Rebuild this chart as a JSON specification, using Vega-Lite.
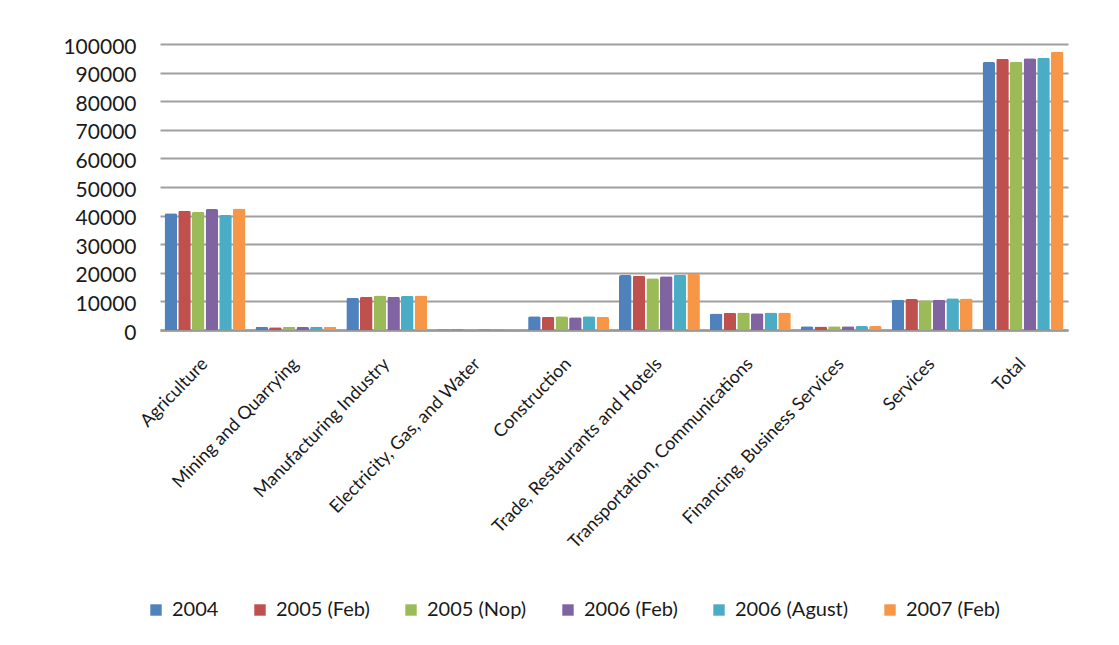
{
  "$schema": "https://vega.github.io/schema/vega-lite/v6.json",
  "width": 908,
  "height": 286,
  "autosize": {"type": "none"},
  "padding": {"left": 160, "top": 44, "right": 51, "bottom": 315},
  "background": "white",
  "data": {
    "values": [
      {"sector": "Agriculture", "period": "2004", "value": 40800},
      {"sector": "Agriculture", "period": "2005 (Feb)", "value": 41700},
      {"sector": "Agriculture", "period": "2005 (Nop)", "value": 41300},
      {"sector": "Agriculture", "period": "2006 (Feb)", "value": 42300},
      {"sector": "Agriculture", "period": "2006 (Agust)", "value": 40200},
      {"sector": "Agriculture", "period": "2007 (Feb)", "value": 42500},
      {"sector": "Mining and Quarrying", "period": "2004", "value": 1100},
      {"sector": "Mining and Quarrying", "period": "2005 (Feb)", "value": 1000},
      {"sector": "Mining and Quarrying", "period": "2005 (Nop)", "value": 1100},
      {"sector": "Mining and Quarrying", "period": "2006 (Feb)", "value": 1050},
      {"sector": "Mining and Quarrying", "period": "2006 (Agust)", "value": 1100},
      {"sector": "Mining and Quarrying", "period": "2007 (Feb)", "value": 1100},
      {"sector": "Manufacturing Industry", "period": "2004", "value": 11300},
      {"sector": "Manufacturing Industry", "period": "2005 (Feb)", "value": 11650},
      {"sector": "Manufacturing Industry", "period": "2005 (Nop)", "value": 12100},
      {"sector": "Manufacturing Industry", "period": "2006 (Feb)", "value": 11650},
      {"sector": "Manufacturing Industry", "period": "2006 (Agust)", "value": 12000},
      {"sector": "Manufacturing Industry", "period": "2007 (Feb)", "value": 12100},
      {"sector": "Electricity, Gas, and Water", "period": "2004", "value": 300},
      {"sector": "Electricity, Gas, and Water", "period": "2005 (Feb)", "value": 250},
      {"sector": "Electricity, Gas, and Water", "period": "2005 (Nop)", "value": 250},
      {"sector": "Electricity, Gas, and Water", "period": "2006 (Feb)", "value": 280},
      {"sector": "Electricity, Gas, and Water", "period": "2006 (Agust)", "value": 260},
      {"sector": "Electricity, Gas, and Water", "period": "2007 (Feb)", "value": 250},
      {"sector": "Construction", "period": "2004", "value": 4800},
      {"sector": "Construction", "period": "2005 (Feb)", "value": 4600},
      {"sector": "Construction", "period": "2005 (Nop)", "value": 4800},
      {"sector": "Construction", "period": "2006 (Feb)", "value": 4500},
      {"sector": "Construction", "period": "2006 (Agust)", "value": 4800},
      {"sector": "Construction", "period": "2007 (Feb)", "value": 4600},
      {"sector": "Trade, Restaurants and Hotels", "period": "2004", "value": 19200},
      {"sector": "Trade, Restaurants and Hotels", "period": "2005 (Feb)", "value": 19000},
      {"sector": "Trade, Restaurants and Hotels", "period": "2005 (Nop)", "value": 18100},
      {"sector": "Trade, Restaurants and Hotels", "period": "2006 (Feb)", "value": 18800},
      {"sector": "Trade, Restaurants and Hotels", "period": "2006 (Agust)", "value": 19300},
      {"sector": "Trade, Restaurants and Hotels", "period": "2007 (Feb)", "value": 19600},
      {"sector": "Transportation, Communications", "period": "2004", "value": 5800},
      {"sector": "Transportation, Communications", "period": "2005 (Feb)", "value": 6000},
      {"sector": "Transportation, Communications", "period": "2005 (Nop)", "value": 6100},
      {"sector": "Transportation, Communications", "period": "2006 (Feb)", "value": 5900},
      {"sector": "Transportation, Communications", "period": "2006 (Agust)", "value": 6100},
      {"sector": "Transportation, Communications", "period": "2007 (Feb)", "value": 6100},
      {"sector": "Financing, Business Services", "period": "2004", "value": 1300},
      {"sector": "Financing, Business Services", "period": "2005 (Feb)", "value": 1200},
      {"sector": "Financing, Business Services", "period": "2005 (Nop)", "value": 1300},
      {"sector": "Financing, Business Services", "period": "2006 (Feb)", "value": 1300},
      {"sector": "Financing, Business Services", "period": "2006 (Agust)", "value": 1400},
      {"sector": "Financing, Business Services", "period": "2007 (Feb)", "value": 1400},
      {"sector": "Services", "period": "2004", "value": 10600},
      {"sector": "Services", "period": "2005 (Feb)", "value": 10800},
      {"sector": "Services", "period": "2005 (Nop)", "value": 10400},
      {"sector": "Services", "period": "2006 (Feb)", "value": 10600},
      {"sector": "Services", "period": "2006 (Agust)", "value": 11100},
      {"sector": "Services", "period": "2007 (Feb)", "value": 11000},
      {"sector": "Total", "period": "2004", "value": 93700},
      {"sector": "Total", "period": "2005 (Feb)", "value": 94800},
      {"sector": "Total", "period": "2005 (Nop)", "value": 93800},
      {"sector": "Total", "period": "2006 (Feb)", "value": 95000},
      {"sector": "Total", "period": "2006 (Agust)", "value": 95200},
      {"sector": "Total", "period": "2007 (Feb)", "value": 97300}
    ]
  },
  "mark": {"type": "bar", "cornerRadiusTopLeft": 2, "cornerRadiusTopRight": 2},
  "encoding": {
    "x": {
      "field": "sector",
      "type": "nominal",
      "sort": null,
      "scale": {"paddingInner": 0.11, "paddingOuter": 0.05},
      "axis": {
        "title": null,
        "labelAngle": -46,
        "labelAlign": "right",
        "labelBaseline": "middle",
        "labelFont": "Lato",
        "labelFontSize": 18,
        "labelColor": "#1a1a1a",
        "labelPadding": 31,
        "labelLimit": 400,
        "ticks": false,
        "domainColor": "#999999",
        "domainWidth": 2.5
      }
    },
    "xOffset": {
      "field": "period",
      "type": "nominal",
      "sort": ["2004", "2005 (Feb)", "2005 (Nop)", "2006 (Feb)", "2006 (Agust)", "2007 (Feb)"],
      "scale": {"paddingInner": 0.08}
    },
    "y": {
      "field": "value",
      "type": "quantitative",
      "scale": {"domain": [0, 100000], "nice": false},
      "axis": {
        "title": null,
        "values": [0, 10000, 20000, 30000, 40000, 50000, 60000, 70000, 80000, 90000, 100000],
        "format": "d",
        "labelFont": "Lato",
        "labelFontSize": 21,
        "labelColor": "#1a1a1a",
        "labelPadding": 24,
        "labelOffset": 3,
        "ticks": false,
        "domain": false,
        "gridColor": "#a0a0a0",
        "gridWidth": 1.8
      }
    },
    "color": {
      "field": "period",
      "type": "nominal",
      "scale": {
        "domain": ["2004", "2005 (Feb)", "2005 (Nop)", "2006 (Feb)", "2006 (Agust)", "2007 (Feb)"],
        "range": ["#4F81BD", "#C0504D", "#9BBB59", "#8064A2", "#4BACC6", "#F79646"]
      },
      "legend": {
        "title": null,
        "orient": "none",
        "direction": "horizontal",
        "legendX": -14,
        "legendY": 556,
        "padding": 0,
        "symbolType": "square",
        "symbolSize": 130,
        "symbolStrokeWidth": 0,
        "labelFont": "Lato",
        "labelFontSize": 20,
        "labelColor": "#1a1a1a",
        "labelOffset": 6,
        "columnPadding": 31,
        "labelLimit": 300
      }
    }
  },
  "config": {"view": {"stroke": null}}
}
